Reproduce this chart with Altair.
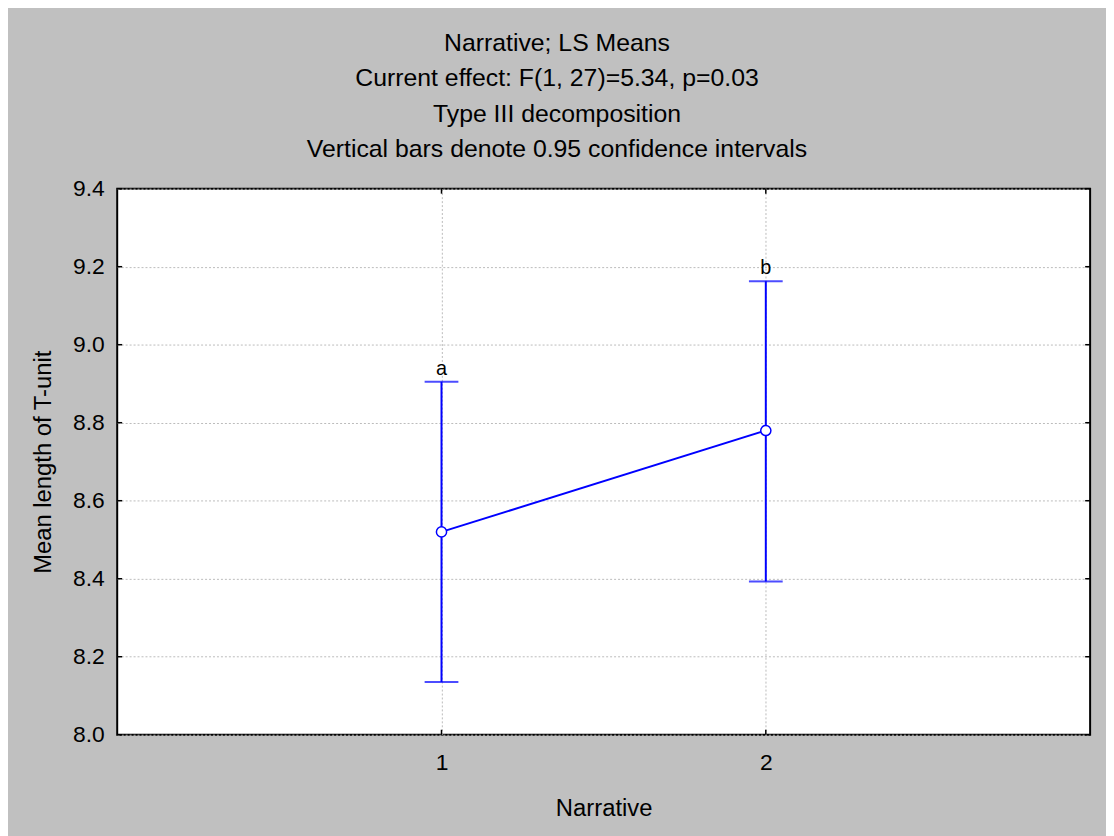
import altair as alt
import pandas as pd

# ---- data ----
narrative = [1, 2]
means = [8.52, 8.78]
lower = [8.135, 8.393]
upper = [8.905, 9.163]
letters = ["a", "b"]
y_ticks = [8.0, 8.2, 8.4, 8.6, 8.8, 9.0, 9.2, 9.4]
x_ticks = [1, 2]
title_lines = [
    "Narrative; LS Means",
    "Current effect: F(1, 27)=5.34, p=0.03",
    "Type III decomposition",
    "Vertical bars denote 0.95 confidence intervals",
]

df = pd.DataFrame({"narrative": narrative, "mean": means, "lower": lower,
                   "upper": upper, "letter": letters})
ty = pd.DataFrame({"v": y_ticks})
tx = pd.DataFrame({"v": x_ticks})

FONT = "Liberation Sans"
BLUE = "#0000FF"
W, H = 980, 550
LFS = 23   # tick labels
TFS = 24   # axis titles
CFS = 25   # chart title

xs = alt.Scale(domain=[0, 3], nice=False, zero=False)
ys = alt.Scale(domain=[8.0, 9.4], nice=False, zero=False)

x_axis = alt.Axis(values=x_ticks, title="Narrative", ticks=False, tickSize=0, domain=False,
                  grid=True, gridDash=[2, 2], gridColor="#BBBBBB", gridWidth=1,
                  labelFont=FONT, labelFontSize=LFS, labelColor="black",
                  labelBaseline="alphabetic", labelPadding=35,
                  titleFont=FONT, titleFontSize=TFS, titleFontWeight="normal", titleColor="black",
                  titleBaseline="alphabetic", titleY=81)
y_axis = alt.Axis(values=y_ticks, format=".1f", title="Mean length of T-unit", ticks=False,
                  tickSize=0, domain=False, grid=True, gridDash=[2, 2], gridColor="#BBBBBB",
                  gridWidth=1, labelFont=FONT, labelFontSize=LFS, labelColor="black",
                  labelPadding=13,
                  titleFont=FONT, titleFontSize=TFS, titleFontWeight="normal", titleColor="black",
                  titleAngle=270, titleX=-74, titleY=H / 2, titleAlign="center",
                  titleBaseline="middle")

X = alt.X("narrative:Q", scale=xs, axis=x_axis)

bars = alt.Chart(df).mark_rule(color=BLUE, strokeWidth=2).encode(
    x=X, y=alt.Y("lower:Q", scale=ys, axis=y_axis), y2="upper:Q")
cap_lo = alt.Chart(df).mark_tick(orient="horizontal", size=34, thickness=2, color=BLUE).encode(
    x=X, y=alt.Y("lower:Q", scale=ys, axis=y_axis))
cap_hi = alt.Chart(df).mark_tick(orient="horizontal", size=34, thickness=2, color=BLUE).encode(
    x=X, y=alt.Y("upper:Q", scale=ys, axis=y_axis))
line = alt.Chart(df).mark_line(color=BLUE, strokeWidth=2).encode(
    x=X, y=alt.Y("mean:Q", scale=ys, axis=y_axis))
pts = alt.Chart(df).mark_point(filled=True, fill="white", stroke=BLUE, strokeWidth=1.5,
                               size=105, opacity=1).encode(
    x=X, y=alt.Y("mean:Q", scale=ys, axis=y_axis))
lbl = alt.Chart(df).mark_text(dy=-7, baseline="alphabetic", fontSize=20, font=FONT,
                              color="black").encode(
    x=X, y=alt.Y("upper:Q", scale=ys, axis=y_axis), text="letter:N")

YV = alt.Y("v:Q", scale=ys, axis=y_axis)
XV = alt.X("v:Q", scale=xs, axis=x_axis)
tick_l = alt.Chart(ty).mark_rule(color="black", strokeWidth=1.5).encode(
    y=YV, x=alt.value(0), x2=alt.value(5))
tick_r = alt.Chart(ty).mark_rule(color="black", strokeWidth=1.5).encode(
    y=YV, x=alt.value(W - 5), x2=alt.value(W))
tick_b = alt.Chart(tx).mark_rule(color="black", strokeWidth=1.5).encode(
    x=XV, y=alt.value(H - 5), y2=alt.value(H))
tick_t = alt.Chart(tx).mark_rule(color="black", strokeWidth=1.5).encode(
    x=XV, y=alt.value(0), y2=alt.value(5))

chart = alt.layer(bars, cap_lo, cap_hi, line, pts, lbl, tick_l, tick_r, tick_b, tick_t).properties(
    width=W, height=H,
    padding={"left": 110, "top": 179, "right": 16, "bottom": 99},
    autosize=alt.AutoSizeParams(type="none"),
    background="#C0C0C0",
    title=alt.TitleParams(text=title_lines, font=FONT, fontSize=CFS, fontWeight="normal",
                          color="black", lineHeight=35.5, anchor="middle", frame="group",
                          dx=-47, dy=9, offset=0, baseline="bottom"),
).configure_view(fill="white", stroke="black", strokeWidth=2)

chart.save("out.html", embed_options={"renderer": "svg", "actions": False})
